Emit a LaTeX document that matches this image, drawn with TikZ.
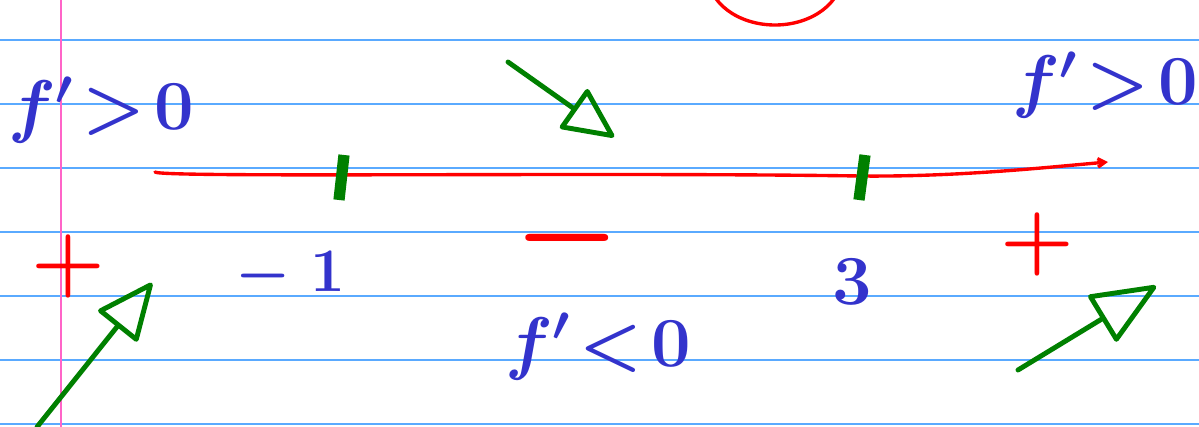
\RequirePackage{fix-cm}
\documentclass[tikz,border=0pt]{standalone}
\usepackage{amsmath}
\usetikzlibrary{arrows.meta, positioning}
\definecolor{inkblue}{RGB}{51,51,204}
\definecolor{inkred}{RGB}{255,0,0}
\definecolor{inkgreen}{RGB}{0,128,0}
\definecolor{ruleblue}{RGB}{90,170,255}
\definecolor{marginpink}{RGB}{255,100,200}

\begin{document}
\begin{tikzpicture}[
  x=0.025cm, y=-0.025cm,
  paperline/.style={draw=ruleblue, line width=1.2pt},
  marginline/.style={draw=marginpink, line width=1.2pt},
  numline/.style={draw=inkred, line width=2.4pt, line cap=round},
  tickmark/.style={draw=inkgreen, line width=8pt},
  trend/.style={draw=inkgreen, line width=3.5pt, line cap=round, line join=round},
  deriv/.style={text=inkblue, font=\fontsize{50}{56}\selectfont\boldmath, inner sep=0pt},
  sign/.style={text=inkred, font=\fontsize{60}{66}\selectfont\boldmath, inner sep=0pt}
]
\useasboundingbox (0,0) rectangle (1199,427);
\clip (0,0) rectangle (1199,427);
\fill[white] (0,0) rectangle (1199,427);

% --- ruled paper ---
\foreach \y in {40,104,...,424}
  \draw[paperline] (0,\y) -- (1199,\y);
\draw[marginline] (61,0) -- (61,427);

% --- red circle cut by the top edge ---
\draw[inkred, line width=2.4pt] (775,-25) ellipse [x radius=67, y radius=50];

% --- number line with the two critical points ---
\coordinate (lstart) at (155,172);
\coordinate (lend)   at (1108,162);
\draw[numline, -{Straight Barb[length=5pt, width=6pt]}]
  (lstart) .. controls (160,178) and (600,172) .. (860,176)
  .. controls (960,177) and (1050,167) .. (lend);
\draw[tickmark] (344,155) -- (339,200);
\draw[tickmark] (865,155) -- (859,200);

\node[deriv, font=\fontsize{44}{50}\selectfont\boldmath] (xm1) at (290,276) {$-\;1$};
\node[deriv] (x3)  at (852,282) {$3$};

% --- sign of f' on each interval ---
\node[deriv, anchor=base west] (fleft)  at (8,130)  {$f'\!>\!0$};
\node[deriv, anchor=base west] (fright) at (1012,105) {$f'\!>\!0$};
\node[deriv, anchor=base west] (fmid)   at (505,366) {$f'\!<\!0$};

\node[sign] (pleft)  at (68,266)  {$+$};
\node[sign] (pright) at (1037,244) {$+$};
\node[sign, font=\fontsize{84}{90}\selectfont\boldmath] (mmid) at (567,238) {$-$};

% --- increasing / decreasing arrows ---
\coordinate (upLs) at (37,427);
\coordinate (upLe) at (152,283);
\coordinate (downs) at (508,62);
\coordinate (downe) at (614,137);
\coordinate (upRs) at (1018,370);
\coordinate (upRe) at (1156,286);
\draw[trend, -{Triangle[open, round, length=1.5cm, width=1.3cm]}] (upLs) -- (upLe);
\draw[trend, -{Triangle[open, round, length=1.35cm, width=1.25cm]}] (downs) -- (downe);
\draw[trend, -{Triangle[open, round, length=1.7cm, width=1.4cm]}] (upRs) -- (upRe);

\end{tikzpicture}
\end{document}
